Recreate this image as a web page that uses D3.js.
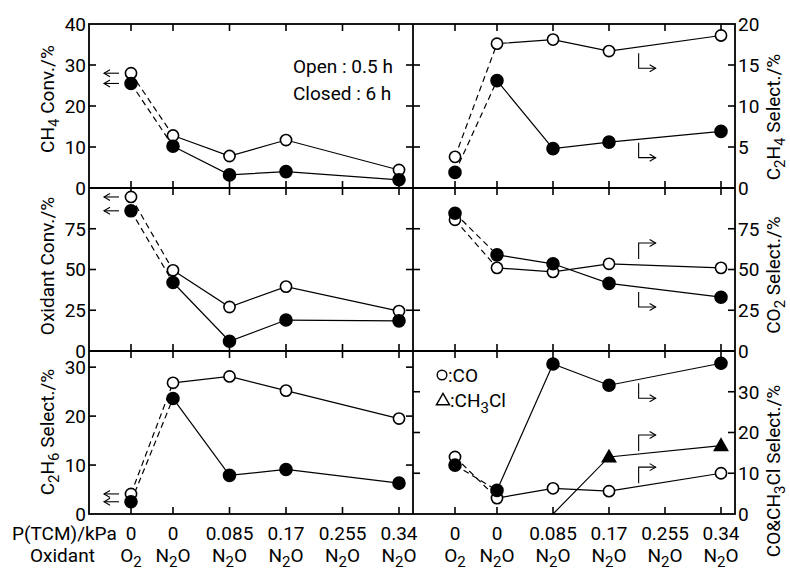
<!DOCTYPE html>
<html>
<head>
<meta charset="utf-8">
<script src="https://cdn.jsdelivr.net/npm/d3@7"></script>
<style>
  body { margin: 0; background: #fff; }
  text { font-family: Roboto, "Liberation Sans", sans-serif; fill: #000; }
</style>
</head>
<body>
<svg id="chart" width="790" height="570"></svg>
<script>
// categories on the x axis (first one is the O2 reference run)
const pTCM = ["0", "0", "0.085", "0.17", "0.255", "0.34"];
const pValues = [0, 0, 0.085, 0.17, 0.255, 0.34];
const oxidants = ["O2", "N2O", "N2O", "N2O", "N2O", "N2O"];

// open = 0.5 h, closed = 6 h ; null = not measured
const ch4Open    = [28, 12.8, 7.8, 11.7, null, 4.4];
const ch4Closed  = [25.5, 10.2, 3.2, 4.0, null, 2.0];
const c2h4Open   = [3.8, 17.6, 18.1, 16.7, null, 18.6];
const c2h4Closed = [1.9, 13.1, 4.8, 5.6, null, 6.9];
const oxOpen     = [94.5, 49.5, 27, 39.5, null, 24.5];
const oxClosed   = [86, 42, 6, 19, null, 18.5];
const co2Open    = [80.5, 51, 48.5, 53.5, null, 51];
const co2Closed  = [84.5, 59, 53.5, 41.5, null, 33];
const c2h6Open   = [4.1, 26.8, 28.1, 25.2, null, 19.5];
const c2h6Closed = [2.5, 23.6, 7.9, 9.1, null, 6.3];
const coOpen     = [14, 3.9, 6.3, 5.6, null, 10];
const coClosed   = [12, 5.8, 36.8, 31.6, null, 37];
const ch3clClosed = [null, null, 0, 14, null, 16.8];

// y axis ticks
const ticksCH4 = [0, 10, 20, 30, 40];
const ticksC2H4 = [0, 5, 10, 15, 20];
const ticksOx = [0, 25, 50, 75];
const ticksCO2 = [0, 25, 50, 75];
const ticksC2H6 = [0, 10, 20, 30];
const ticksCO = [0, 10, 20, 30];

const svg = d3.select("#chart");
svg.append("rect").attr("width", 790).attr("height", 570).attr("fill", "#fff");

const colX = [89, 413, 735];
const rowY = [24, 188, 351, 514];

const sub = t => ({ t: t, sub: true });

const panels = [
  { row: 0, col: 0, domain: [0, 40], ticks: ticksCH4, labels: ticksCH4,
    title: [{ t: "CH" }, sub("4"), { t: " Conv./%" }], titleY: 99,
    series: [{ v: ch4Open, m: "open" }, { v: ch4Closed, m: "filled" }],
    leftArrows: true },
  { row: 0, col: 1, domain: [0, 20], ticks: ticksC2H4, labels: ticksC2H4,
    title: [{ t: "C" }, sub("2"), { t: "H" }, sub("4"), { t: " Select./%" }], titleY: 117,
    series: [{ v: c2h4Open, m: "open" }, { v: c2h4Closed, m: "filled" }],
    bent: [{ p: 0.215, v: 14.6, up: true }, { p: 0.215, v: 3.7, up: true }] },
  { row: 1, col: 0, domain: [0, 100], ticks: ticksOx, labels: ticksOx,
    title: [{ t: "Oxidant Conv./%" }], titleY: 266,
    series: [{ v: oxOpen, m: "open" }, { v: oxClosed, m: "filled" }],
    leftArrows: true },
  { row: 1, col: 1, domain: [0, 100], ticks: ticksCO2, labels: ticksCO2,
    title: [{ t: "CO" }, sub("2"), { t: " Select./%" }], titleY: 275,
    series: [{ v: co2Open, m: "open" }, { v: co2Closed, m: "filled" }],
    bent: [{ p: 0.215, v: 66.3, up: false }, { p: 0.215, v: 27, up: true }] },
  { row: 2, col: 0, domain: [0, 33.3], ticks: ticksC2H6, labels: ticksC2H6,
    title: [{ t: "C" }, sub("2"), { t: "H" }, sub("6"), { t: " Select./%" }], titleY: 432,
    series: [{ v: c2h6Open, m: "open" }, { v: c2h6Closed, m: "filled" }],
    leftArrows: true },
  { row: 2, col: 1, domain: [0, 40], ticks: ticksCO, labels: ticksCO,
    title: [{ t: "CO&CH" }, sub("3"), { t: "Cl Select./%" }], titleY: 471,
    series: [{ v: coOpen, m: "open" }, { v: coClosed, m: "filled" }, { v: ch3clClosed, m: "triangle" }],
    bent: [{ p: 0.215, v: 28.4, up: true }, { p: 0.215, v: 19.4, up: false }, { p: 0.215, v: 11.5, up: false }],
    legend: true }
];

function richText(sel, segs, subSize, shift) {
  let shifted = false;
  segs.forEach(s => {
    const ts = sel.append("tspan").text(s.t);
    if (s.sub) {
      ts.attr("dy", shift).attr("font-size", subSize);
      shifted = true;
    } else if (shifted) {
      ts.attr("dy", -shift);
      shifted = false;
    }
  });
}

function oxSegs(o) {
  return o === "O2" ? [{ t: "O" }, sub("2")] : [{ t: "N" }, sub("2"), { t: "O" }];
}

function arrowHead(g, x, y, dir) {
  // open chevron, dir = -1 points left, +1 points right
  g.append("path")
    .attr("d", `M${x - dir * 6},${y - 3.5}L${x},${y}L${x - dir * 6},${y + 3.5}`)
    .attr("fill", "none").attr("stroke", "#000").attr("stroke-width", 1.1);
}

panels.forEach(pn => {
  const x0 = colX[pn.col], x1 = colX[pn.col + 1];
  const y0 = rowY[pn.row], y1 = rowY[pn.row + 1];
  const x = d3.scaleLinear().domain([0, 0.34]).range([x0 + 84, x1 - 14]);
  const y = d3.scaleLinear().domain(pn.domain).range([y1, y0]);
  const cx = i => i === 0 ? (x0 + x(0)) / 2 : x(pValues[i]);
  const g = svg.append("g");

  // inward ticks on all four sides
  pValues.forEach((p, i) => {
    g.append("line").attr("x1", cx(i)).attr("x2", cx(i)).attr("y1", y0).attr("y2", y0 + 7)
      .attr("stroke", "#000").attr("stroke-width", 1.6);
    g.append("line").attr("x1", cx(i)).attr("x2", cx(i)).attr("y1", y1).attr("y2", y1 - 7)
      .attr("stroke", "#000").attr("stroke-width", 1.6);
  });
  pn.ticks.forEach(t => {
    if (t === pn.domain[0] || y(t) <= y0 + 1) return;
    g.append("line").attr("x1", x0).attr("x2", x0 + 7).attr("y1", y(t)).attr("y2", y(t))
      .attr("stroke", "#000").attr("stroke-width", 1.6);
    g.append("line").attr("x1", x1).attr("x2", x1 - 7).attr("y1", y(t)).attr("y2", y(t))
      .attr("stroke", "#000").attr("stroke-width", 1.6);
  });

  // tick labels
  pn.labels.forEach(t => {
    g.append("text")
      .attr("x", pn.col === 0 ? x0 - 3 : x1 + 3)
      .attr("y", y(t)).attr("dy", "0.36em")
      .attr("text-anchor", pn.col === 0 ? "end" : "start")
      .attr("font-size", 19)
      .text(t);
  });

  // axis title
  const tx = pn.col === 0 ? 54 : 780;
  const title = g.append("text")
    .attr("transform", `translate(${tx},${pn.titleY}) rotate(-90)`)
    .attr("text-anchor", "middle").attr("font-size", 19);
  richText(title, pn.title, 15, 5);

  // lines: dashed O2 -> N2O, solid along N2O runs
  const line = d3.line().x(d => cx(d.i)).y(d => y(d.v));
  pn.series.forEach(s => {
    const pts = s.v.map((v, i) => ({ i: i, v: v })).filter(d => d.v !== null);
    const head = pts.filter(d => d.i <= 1);
    if (head.length === 2) {
      g.append("path").attr("d", line(head)).attr("fill", "none")
        .attr("stroke", "#000").attr("stroke-width", 1.2).attr("stroke-dasharray", "6,4");
    }
    const rest = pts.filter(d => d.i >= 1);
    g.append("path").attr("d", line(rest)).attr("fill", "none")
      .attr("stroke", "#000").attr("stroke-width", 1.2);
  });

  // markers
  pn.series.forEach(s => {
    const pts = s.v.map((v, i) => ({ i: i, v: v })).filter(d => d.v !== null);
    if (s.m === "triangle") {
      g.selectAll(null).data(pts.filter(d => d.v > 0)).enter().append("path")
        .attr("transform", d => `translate(${cx(d.i)},${y(d.v) + 1})`)
        .attr("d", d3.symbol(d3.symbolTriangle, 110)).attr("fill", "#000");
    } else {
      g.selectAll(null).data(pts).enter().append("circle")
        .attr("cx", d => cx(d.i)).attr("cy", d => y(d.v))
        .attr("r", s.m === "open" ? 5.6 : 6)
        .attr("fill", s.m === "open" ? "#fff" : "#000")
        .attr("stroke", "#000").attr("stroke-width", 1.6);
    }
  });

  // left-pointing arrows at O2 points
  if (pn.leftArrows) {
    pn.series.forEach(s => {
      const yy = y(s.v[0]);
      g.append("line").attr("x1", x0 + 15).attr("x2", x0 + 30).attr("y1", yy).attr("y2", yy)
        .attr("stroke", "#000").attr("stroke-width", 1.1);
      arrowHead(g, x0 + 15, yy, -1);
    });
  }

  // bent arrows pointing to right axis
  (pn.bent || []).forEach(b => {
    const bx = x(b.p), by = y(b.v);
    const vy = b.up ? by - 15 : by + 16;
    g.append("path").attr("d", `M${bx},${vy}L${bx},${by}L${bx + 17},${by}`)
      .attr("fill", "none").attr("stroke", "#000").attr("stroke-width", 1.1);
    arrowHead(g, bx + 17, by, 1);
  });

  // legend
  if (pn.legend) {
    g.append("circle").attr("cx", x0 + 29).attr("cy", y0 + 24).attr("r", 4.8)
      .attr("fill", "#fff").attr("stroke", "#000").attr("stroke-width", 1.4);
    g.append("text").attr("x", x0 + 35).attr("y", y0 + 31).attr("font-size", 19).text(":CO");
    g.append("path").attr("transform", `translate(${x0 + 30},${y0 + 50})`)
      .attr("d", d3.symbol(d3.symbolTriangle, 75)).attr("fill", "none")
      .attr("stroke", "#000").attr("stroke-width", 1.4);
    const lt = g.append("text").attr("x", x0 + 37).attr("y", y0 + 56).attr("font-size", 19);
    richText(lt, [{ t: ":CH" }, sub("3"), { t: "Cl" }], 15, 6);
  }

  // bottom category labels
  if (pn.row === 2) {
    pTCM.forEach((p, i) => {
      g.append("text").attr("x", cx(i)).attr("y", 540).attr("text-anchor", "middle")
        .attr("font-size", 19).text(p);
      const ot = g.append("text").attr("x", cx(i)).attr("y", 562).attr("text-anchor", "middle")
        .attr("font-size", 19);
      richText(ot, oxSegs(oxidants[i]), 15, 5);
    });
  }
});

// frame
svg.append("rect").attr("x", colX[0]).attr("y", rowY[0])
  .attr("width", colX[2] - colX[0]).attr("height", rowY[3] - rowY[0])
  .attr("fill", "none").attr("stroke", "#000").attr("stroke-width", 1.8);
svg.append("line").attr("x1", colX[1]).attr("x2", colX[1]).attr("y1", rowY[0]).attr("y2", rowY[3])
  .attr("stroke", "#000").attr("stroke-width", 1.8);
[rowY[1], rowY[2]].forEach(yy => {
  svg.append("line").attr("x1", colX[0]).attr("x2", colX[2]).attr("y1", yy).attr("y2", yy)
    .attr("stroke", "#000").attr("stroke-width", 1.8);
});

// run-time note
svg.append("text").attr("x", 293).attr("y", 73).attr("font-size", 19).text("Open : 0.5 h");
svg.append("text").attr("x", 293).attr("y", 100).attr("font-size", 19).text("Closed : 6 h");

// row captions under the bottom axis
svg.append("text").attr("x", 12).attr("y", 540).attr("font-size", 19).text("P(TCM)/kPa");
svg.append("text").attr("x", 30).attr("y", 562).attr("font-size", 19).text("Oxidant");
</script>
</body>
</html>
